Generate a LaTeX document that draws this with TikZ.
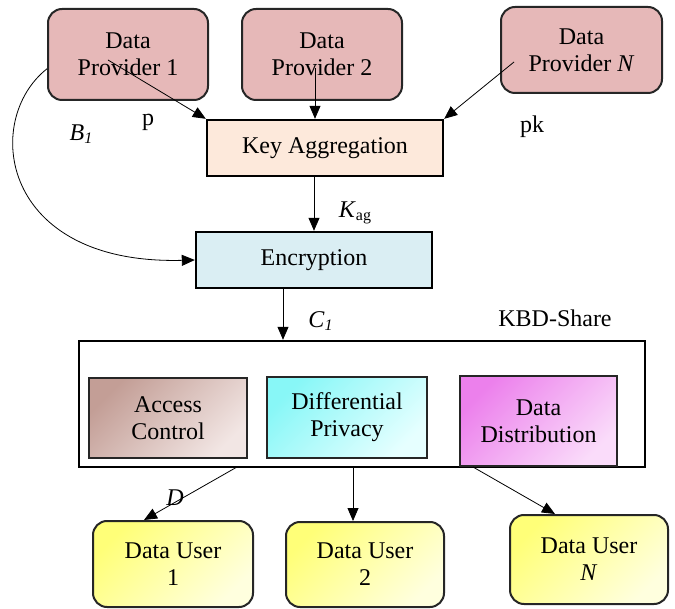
\documentclass[tikz,border=0pt]{standalone}
\usepackage{fontspec}
\setmainfont{Liberation Serif}
\usetikzlibrary{positioning}
\usetikzlibrary{arrows.meta}

\definecolor{provfill}{HTML}{E6B8B8}
\definecolor{aggfill}{HTML}{FDE9DB}
\definecolor{encfill}{HTML}{DAEEF3}
\definecolor{boxline}{HTML}{262626}
\definecolor{accessA}{HTML}{C39E96}
\definecolor{accessB}{HTML}{F2E6E4}
\definecolor{privA}{HTML}{88F7F7}
\definecolor{privB}{HTML}{E6FFFF}
\definecolor{distA}{HTML}{EC80EC}
\definecolor{distB}{HTML}{FADCFA}
\definecolor{userA}{HTML}{FFFF78}
\definecolor{userB}{HTML}{FFFFDE}
\newcommand{\lowsub}[1]{\raisebox{-3pt}{\fontsize{16}{16}\selectfont #1}}

\begin{document}
\begin{tikzpicture}[x = 1pt, y = -1pt, font = \fontsize{24}{27}\selectfont,
		>={Triangle[length = 13pt, width = 11pt]},
		provbox/.style = {draw = boxline, line width = 2pt, rounded corners = 14pt, fill = provfill, align = center},
		userbox/.style = {draw = boxline, line width = 2pt, rounded corners = 14pt, align = center,
			top color = userA, bottom color = userB, shading angle = 45},
		stepbox/.style = {draw = black, line width = 2.4pt, align = center},
		partbox/.style = {draw = boxline, line width = 2pt, align = center},
		labelbg/.style = {fill = white, inner sep = 0pt},
		link/.style = {->, line width = 0.8pt}]
	\useasboundingbox (0, 0) rectangle (675, 609);
	% white label patches, under the boxes
	\node [labelbg, minimum width = 72pt, minimum height = 47pt] (lblB) at (81, 134) {\textit{B}\lowsub{\textit{1}}};
	\node [labelbg, minimum width = 73pt, minimum height = 48pt] (lblC) at (320.5, 321) {\textit{C}\lowsub{\textit{1}}};
	\node [labelbg, minimum width = 72pt, minimum height = 46pt] (lblD) at (175, 497.5) {\textit{D}};
	% providers
	\node [provbox, minimum width = 160pt, minimum height = 91pt] (prov1) at (128, 54.5) {Data\\Provider 1};
	\node [provbox, minimum width = 160pt, minimum height = 91pt] (prov2) at (322, 54.5) {Data\\Provider 2};
	\node [provbox, minimum width = 161pt, minimum height = 86pt] (provN) at (581.5, 50) {Data\\Provider \textit{N}};
	% key aggregation and encryption
	\node [stepbox, fill = aggfill, minimum width = 236pt, minimum height = 56pt] (keyagg) at (325, 148) {Key Aggregation};
	\node [stepbox, fill = encfill, minimum width = 236pt, minimum height = 56pt] (encrypt) at (314, 260) {Encryption};
	% KBD-Share
	\node [stepbox, minimum width = 566pt, minimum height = 126pt] (kbd) at (362, 404) {};
	\node [partbox, top color = accessA, bottom color = accessB, shading angle = 45, minimum width = 158pt, minimum height = 80pt] (access) at (168, 418) {Access\\Control};
	\node [partbox, top color = privA, bottom color = privB, shading angle = 45, minimum width = 160pt, minimum height = 81pt] (privacy) at (347, 417.5) {Differential\\Privacy};
	\node [partbox, top color = distA, bottom color = distB, shading angle = 45, minimum width = 157pt, minimum height = 90pt] (distrib) at (538.5, 421) {Data\\Distribution};
	% users
	\node [userbox, minimum width = 160pt, minimum height = 86pt] (user1) at (173, 564) {Data User\\1};
	\node [userbox, minimum width = 158pt, minimum height = 85pt] (user2) at (365, 564.5) {Data User\\2};
	\node [userbox, minimum width = 158pt, minimum height = 89pt] (userN) at (589, 559.5) {Data User\\\textit{N}};
	% other labels
	\node (lblK) at (355, 213) {\textit{K}\lowsub{ag}};
	\node (lblp) at (148, 122) {p};
	\node (lblpk) at (532, 127) {pk};
	\node (lblkbd) at (555, 318) {KBD-Share};
	% connectors
	\coordinate (p1out) at (108, 60);
	\coordinate (p2out) at (315, 68);
	\coordinate (pNout) at (514, 62);
	\coordinate (c1out) at (283, 288);
	\coordinate (u1out) at (237, 467);
	\coordinate (u2out) at (353, 467);
	\coordinate (uNout) at (473, 467);
	\draw [link] (p1out) -- (keyagg.north west);
	\draw [link] (p2out) -- (p2out |- keyagg.north);
	\draw [link] (pNout) -- (keyagg.north east);
	\draw [link] (prov1.190) .. controls (-18, 120) and (0, 265) .. (encrypt.west);
	\draw [link] (encrypt.north |- keyagg.south) -- (encrypt.north);
	\draw [link] (c1out) -- (c1out |- kbd.north);
	\draw [link] (u1out) -- ([xshift = -29pt] user1.north);
	\draw [link] (u2out) -- (u2out |- user2.north);
	\draw [link] (uNout) -- ([xshift = -34pt] userN.north);
\end{tikzpicture}
\end{document}
